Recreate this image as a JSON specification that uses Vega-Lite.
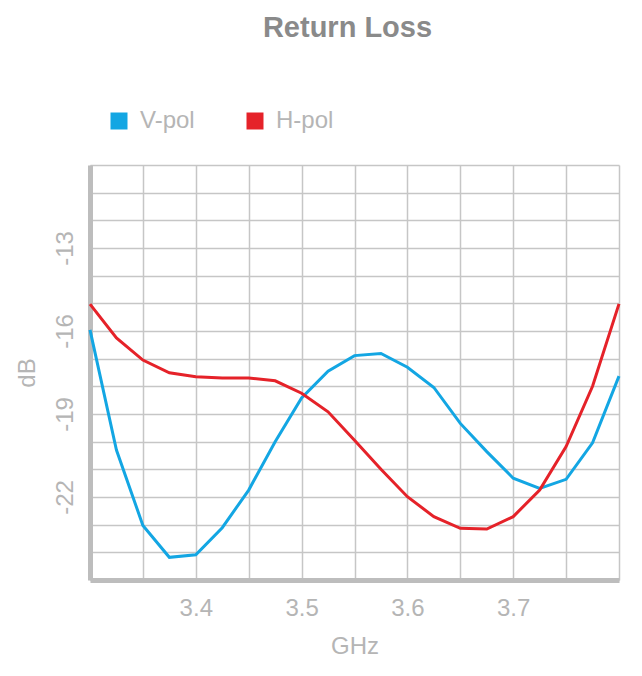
{
  "$schema": "https://vega.github.io/schema/vega-lite/v6.json",
  "autosize": "none",
  "width": 529,
  "height": 415,
  "padding": {"left": 90, "top": 165, "right": 23, "bottom": 96},
  "background": "white",
  "config": {
    "font": "Liberation Sans",
    "view": {"stroke": null},
    "axis": {
      "grid": true,
      "gridColor": "#c6c6c6",
      "gridWidth": 1.5,
      "domainColor": "#bdbdbd",
      "domainWidth": 5,
      "ticks": false,
      "tickSize": 0,
      "labelFontSize": 24,
      "labelColor": "#b5b5b5",
      "titleFontSize": 24,
      "titleFontWeight": "normal",
      "titleColor": "#b5b5b5"
    }
  },
  "title": {
    "text": "Return Loss",
    "fontSize": 29,
    "fontWeight": "bold",
    "color": "#8a8a8a",
    "anchor": "middle",
    "dx": -7,
    "offset": 66
  },
  "data": {
    "values": [
      {"f": 3.300, "v": -15.96, "s": "V-pol"},
      {"f": 3.325, "v": -20.30, "s": "V-pol"},
      {"f": 3.350, "v": -23.03, "s": "V-pol"},
      {"f": 3.375, "v": -24.18, "s": "V-pol"},
      {"f": 3.400, "v": -24.09, "s": "V-pol"},
      {"f": 3.425, "v": -23.11, "s": "V-pol"},
      {"f": 3.450, "v": -21.75, "s": "V-pol"},
      {"f": 3.475, "v": -20.00, "s": "V-pol"},
      {"f": 3.500, "v": -18.42, "s": "V-pol"},
      {"f": 3.525, "v": -17.45, "s": "V-pol"},
      {"f": 3.550, "v": -16.89, "s": "V-pol"},
      {"f": 3.575, "v": -16.81, "s": "V-pol"},
      {"f": 3.600, "v": -17.31, "s": "V-pol"},
      {"f": 3.625, "v": -18.04, "s": "V-pol"},
      {"f": 3.650, "v": -19.34, "s": "V-pol"},
      {"f": 3.675, "v": -20.36, "s": "V-pol"},
      {"f": 3.700, "v": -21.32, "s": "V-pol"},
      {"f": 3.725, "v": -21.69, "s": "V-pol"},
      {"f": 3.750, "v": -21.36, "s": "V-pol"},
      {"f": 3.775, "v": -20.04, "s": "V-pol"},
      {"f": 3.800, "v": -17.63, "s": "V-pol"},
      {"f": 3.300, "v": -15.03, "s": "H-pol"},
      {"f": 3.325, "v": -16.25, "s": "H-pol"},
      {"f": 3.350, "v": -17.05, "s": "H-pol"},
      {"f": 3.375, "v": -17.51, "s": "H-pol"},
      {"f": 3.400, "v": -17.65, "s": "H-pol"},
      {"f": 3.425, "v": -17.70, "s": "H-pol"},
      {"f": 3.450, "v": -17.70, "s": "H-pol"},
      {"f": 3.475, "v": -17.80, "s": "H-pol"},
      {"f": 3.500, "v": -18.25, "s": "H-pol"},
      {"f": 3.525, "v": -18.92, "s": "H-pol"},
      {"f": 3.550, "v": -19.95, "s": "H-pol"},
      {"f": 3.575, "v": -21.00, "s": "H-pol"},
      {"f": 3.600, "v": -21.99, "s": "H-pol"},
      {"f": 3.625, "v": -22.71, "s": "H-pol"},
      {"f": 3.650, "v": -23.13, "s": "H-pol"},
      {"f": 3.675, "v": -23.16, "s": "H-pol"},
      {"f": 3.700, "v": -22.71, "s": "H-pol"},
      {"f": 3.725, "v": -21.75, "s": "H-pol"},
      {"f": 3.750, "v": -20.18, "s": "H-pol"},
      {"f": 3.775, "v": -18.00, "s": "H-pol"},
      {"f": 3.800, "v": -15.02, "s": "H-pol"}
    ]
  },
  "mark": {"type": "line", "strokeWidth": 3},
  "encoding": {
    "x": {
      "field": "f",
      "type": "quantitative",
      "title": "GHz",
      "scale": {"domain": [3.3, 3.8], "nice": false, "zero": false},
      "axis": {
        "values": [3.3, 3.35, 3.4, 3.45, 3.5, 3.55, 3.6, 3.65, 3.7, 3.75, 3.8],
        "labelExpr": "(datum.value == 3.4 || datum.value == 3.5 || datum.value == 3.6 || datum.value == 3.7) ? format(datum.value, '.1f') : ''",
        "labelPadding": 16,
        "labelBaseline": "top",
        "titlePadding": 14,
        "labelFlush": false,
        "labelOverlap": false
      }
    },
    "y": {
      "field": "v",
      "type": "quantitative",
      "title": "dB",
      "scale": {"domain": [-25, -10], "nice": false, "zero": false},
      "axis": {
        "values": [-25, -24, -23, -22, -21, -20, -19, -18, -17, -16, -15, -14, -13, -12, -11, -10],
        "labelExpr": "(datum.value == -13 || datum.value == -16 || datum.value == -19 || datum.value == -22) ? ('' + datum.value) : ''",
        "labelAngle": -90,
        "labelAlign": "center",
        "labelBaseline": "alphabetic",
        "labelPadding": 18,
        "titlePadding": 14,
        "labelOverlap": false,
        "labelFlush": false
      }
    },
    "color": {
      "field": "s",
      "type": "nominal",
      "scale": {"domain": ["V-pol", "H-pol"], "range": ["#13a6e3", "#e52229"]},
      "legend": {
        "title": null,
        "orient": "none",
        "direction": "horizontal",
        "legendX": 17,
        "legendY": -56,
        "symbolType": "square",
        "symbolSize": 289,
        "symbolStrokeWidth": 0,
        "labelFontSize": 24,
        "labelColor": "#b5b5b5",
        "labelOffset": 9,
        "columnPadding": 48,
        "padding": 0,
        "encode": {
          "symbols": {"update": {"fill": {"scale": "color", "field": "value"}, "fillOpacity": {"value": 1}, "strokeWidth": {"value": 0}}}
        }
      }
    }
  }
}
